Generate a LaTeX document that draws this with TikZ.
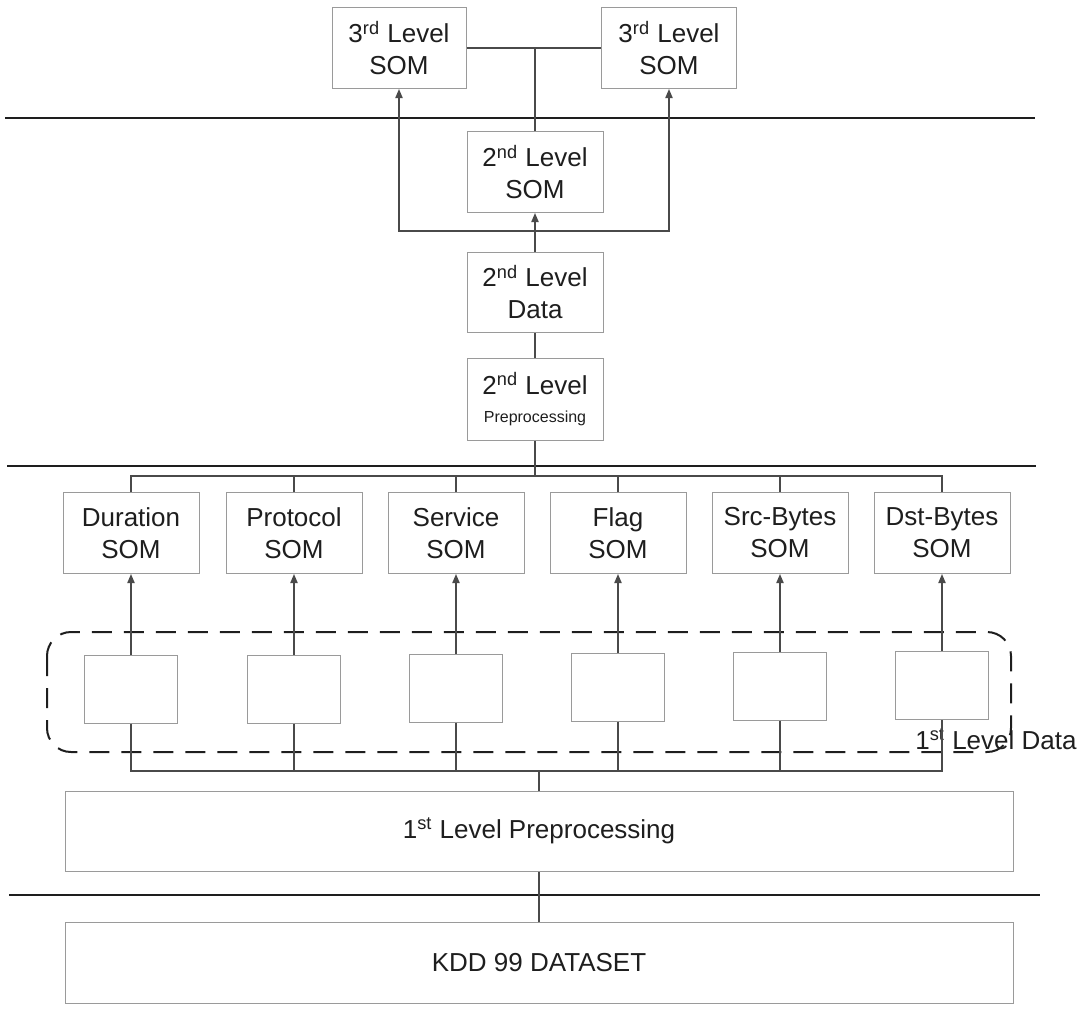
\documentclass[tikz,border=0pt]{standalone}
\usepackage{fontspec}
\setmainfont{Liberation Sans}
\usetikzlibrary{arrows.meta}
\definecolor{ink}{HTML}{1E1E1E}
\definecolor{wire}{HTML}{4A4A4A}
\definecolor{frame}{HTML}{9A9A9A}
\begin{document}
\begin{tikzpicture}[x=0.5pt,y=-0.5pt,
  font=\fontsize{13}{16}\selectfont, text=ink,
  box/.style={draw=frame, line width=0.5pt, inner sep=0pt, align=center,
              minimum width=68pt, minimum height=40.5pt},
  databox/.style={draw=frame, line width=0.5pt, inner sep=0pt,
              minimum width=46.5pt, minimum height=34pt},
  widebox/.style={draw=frame, line width=0.5pt, inner sep=0pt,
              minimum width=474pt, minimum height=40pt},
  wire/.style={draw=wire, line width=0.7pt},
  feed/.style={wire, -{Triangle[length=4.5pt,width=3.6pt]}},
  rule/.style={draw=ink, line width=1.3pt},
  group/.style={draw=ink, line width=1pt, dash pattern=on 10pt off 6pt,
              rounded corners=12pt}]
\useasboundingbox (0,0) rectangle (1086,1008);

% level separators
\draw[rule] (5,118) -- (1035,118);
\draw[rule] (7,466) -- (1036,466);
\draw[rule] (9,895) -- (1040,895);

% third level
\node[box, minimum width=67pt] (t3a) at (399,48) {3\textsuperscript{rd} Level\\SOM};
\node[box, minimum width=67.5pt] (t3b) at (669,48) {3\textsuperscript{rd} Level\\SOM};

% second level column
\node[box] (s2) at (535,172) {2\textsuperscript{nd} Level\\SOM};
\node[box, minimum height=40pt] (d2) at (535,292) {2\textsuperscript{nd} Level\\Data};
\node[box, minimum height=41pt] (p2) at (535,399)
  {2\textsuperscript{nd} Level\\[-2pt]{\fontsize{8}{10}\selectfont Preprocessing}};

% first level SOMs
\node[box] (som1) at (131,533) {Duration\\SOM};
\node[box] (som2) at (294,533) {Protocol\\SOM};
\node[box] (som3) at (456,533) {Service\\SOM};
\node[box] (som4) at (618,533) {Flag\\SOM};
\node[box] (som5) at (780,533) {Src-Bytes\\SOM};
\node[box] (som6) at (942,533) {Dst-Bytes\\SOM};

% first level data blocks
\node[databox] (dat1) at (131,689) {};
\node[databox] (dat2) at (294,689) {};
\node[databox] (dat3) at (456,688) {};
\node[databox] (dat4) at (618,687) {};
\node[databox] (dat5) at (780,686) {};
\node[databox] (dat6) at (942,685) {};

% group outline of the first level data
\draw[group] (47,632) rectangle (1011,752);
\node[anchor=base west, inner sep=0pt] (lbl) at (915,749) {1\textsuperscript{st} Level Data};

% preprocessing and dataset
\node[widebox] (pre1) at (539,831) {1\textsuperscript{st} Level Preprocessing};
\node[widebox, minimum height=40.5pt] (kdd) at (539,963) {KDD 99 DATASET};

% third level links
\draw[wire] (t3a.east) -- (t3b.west);
\draw[wire] (s2.north) -- (s2.north |- t3a.east);

% second level flow
\coordinate (br) at (535,231);
\draw[feed] (d2.north) -- (s2.south);
\draw[feed] (br) -| (t3a.south);
\draw[feed] (br) -| (t3b.south);
\draw[wire] (p2.north) -- (d2.south);

% upper bus to first level SOMs
\coordinate (busT) at (535,476);
\draw[wire] (p2.south) -- (busT);
\draw[wire] (som1.north) |- (busT) -| (som6.north);
\foreach \i in {2,...,5} \draw[wire] (som\i.north) -- (som\i.north |- busT);

% data blocks feeding their SOMs
\foreach \i in {1,...,6} \draw[feed] (dat\i.north) -- (som\i.south);

% lower bus from preprocessing
\coordinate (busB) at (539,771);
\draw[wire] (dat1.south) |- (busB) -| (dat6.south);
\foreach \i in {2,...,5} \draw[wire] (dat\i.south) -- (dat\i.south |- busB);
\draw[wire] (pre1.north) -- (busB);
\draw[wire] (kdd.north) -- (pre1.south);
\end{tikzpicture}
\end{document}
